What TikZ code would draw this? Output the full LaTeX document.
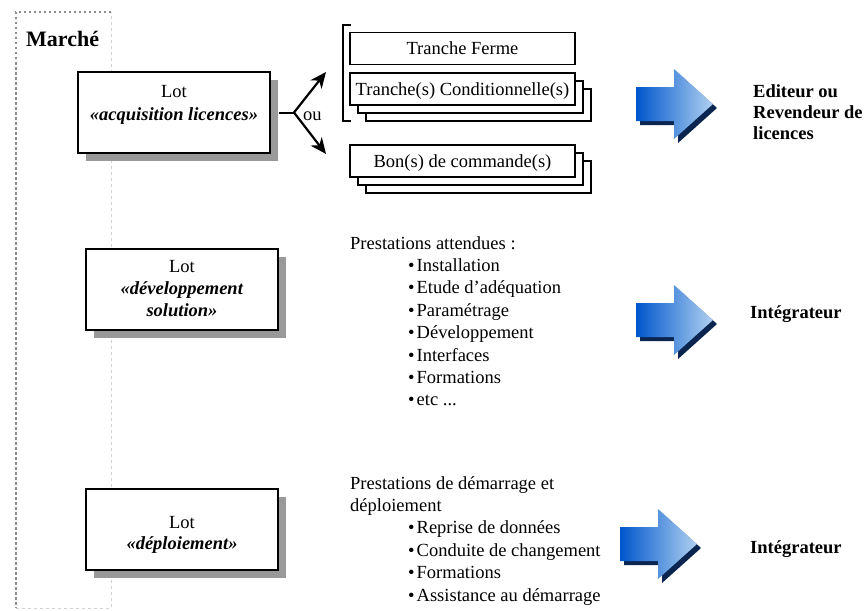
\documentclass[tikz,border=0pt]{standalone}
\usepackage{fontspec}
\setmainfont{Liberation Serif}
\usetikzlibrary{shadows,arrows.meta}

\definecolor{shadowgrey}{HTML}{999999}
\definecolor{framegrey}{HTML}{8C8C8C}
\definecolor{framelightgrey}{HTML}{D0D0D0}
\definecolor{arrowdark}{HTML}{0A2550}
\definecolor{arrowleft}{HTML}{0056CC}
\definecolor{arrowright}{HTML}{AFD0F0}

\tikzset{
  txt/.style={font=\fontsize{18.5}{22.4}\selectfont, inner sep=0pt},
  lotbox/.style={draw, line width=2pt, fill=white,
    minimum width=192pt, minimum height=81pt, inner sep=0pt,
    drop shadow={shadow xshift=8pt, shadow yshift=-8pt, fill=shadowgrey, opacity=1}},
  stackbox/.style={txt, draw, line width=1.3pt, fill=white,
    minimum width=225pt, minimum height=32pt, text height=13pt, text depth=0pt},
  lotline/.style={txt, anchor=base},
  leftline/.style={txt, anchor=base west},
  actor/.style={txt, anchor=base west, font=\fontsize{18.5}{21}\selectfont\bfseries},
  framedots/.style={framegrey, line width=2.2pt, dash pattern=on 2.5pt off 2.5pt},
  framelight/.style={framelightgrey, line width=1pt, dash pattern=on 3pt off 3pt},
  forkarrow/.style={line width=2.2pt, -{Stealth[length=16pt,width=14pt,inset=5pt]}},
  bluearrow/.pic={
    \fill[arrowdark, shift={(4,4)}]
      (0,-17) -- (38,-17) -- (38,-35) -- (77,0) -- (38,35) -- (38,17) -- (0,17) -- cycle;
    \shade[left color=arrowleft, right color=arrowright]
      (0,-17) -- (38,-17) -- (38,-35) -- (77,0) -- (38,35) -- (38,17) -- (0,17) -- cycle;
  }
}

\begin{document}
\begin{tikzpicture}[x=1pt,y=-1pt]
\useasboundingbox (0,0) rectangle (866,610);

% market frame
\draw[framedots] (111,12) -- (16,12) -- (16,608);
\draw[framelight] (16,608) -- (111,608) -- (111,12);
\node[txt, anchor=base west, font=\fontsize{22}{26}\selectfont\bfseries] (marche) at (26,47) {Marché};

% lots
\node[lotbox] (lot1) at (174,112.5) {};
\node[lotline] (lot1a) at (174,97) {Lot};
\node[lotline] (lot1b) at (174,120) {\textbf{\textit{«acquisition licences»}}};

\node[lotbox] (lot2) at (182,289) {};
\node[lotline] (lot2a) at (182,272) {Lot};
\node[lotline] (lot2b) at (182,294.5) {\textbf{\textit{«développement}}};
\node[lotline] (lot2c) at (182,316.5) {\textbf{\textit{solution»}}};

\node[lotbox] (lot3) at (182,529) {};
\node[lotline] (lot3a) at (182,528) {Lot};
\node[lotline] (lot3b) at (182,549) {\textbf{\textit{«déploiement»}}};

% choice between the two purchase forms
\coordinate (fork) at (294,112.5);
\coordinate (upend) at (326,72);
\coordinate (downend) at (326,154);
\draw[line width=2pt] ([xshift=8pt]lot1.east) -- (fork);
\draw[forkarrow] (fork) -- (upend);
\draw[forkarrow] (fork) -- (downend);
\node[txt, anchor=base west] (ou) at (303,120) {ou};

% tranches
\coordinate (brtop) at (351,25);
\coordinate (brbot) at (351,121);
\draw[line width=1.3pt] (brtop) -- (343,25) -- (343,121) -- (brbot);
\node[stackbox] (tf) at (462.5,48.5) {Tranche Ferme};
\node[stackbox] (tc3) at (478.5,105) {};
\node[stackbox] (tc2) at (470.5,97) {};
\node[stackbox] (tc) at (462.5,89) {Tranche(s) Conditionnelle(s)};

% purchase orders
\node[stackbox] (bc3) at (478.5,177) {};
\node[stackbox] (bc2) at (470.5,169) {};
\node[stackbox] (bc) at (462.5,161) {Bon(s) de commande(s)};

% expected services
\node[leftline] (p0) at (350,249) {Prestations attendues :};
\node[leftline] (p1) at (408,271.4) {•\hspace{2pt}Installation};
\node[leftline] (p2) at (408,293.8) {•\hspace{2pt}Etude d’adéquation};
\node[leftline] (p3) at (408,316.2) {•\hspace{2pt}Paramétrage};
\node[leftline] (p4) at (408,338.6) {•\hspace{2pt}Développement};
\node[leftline] (p5) at (408,361) {•\hspace{2pt}Interfaces};
\node[leftline] (p6) at (408,383.4) {•\hspace{2pt}Formations};
\node[leftline] (p7) at (408,405.8) {•\hspace{2pt}etc ...};

% start-up services
\node[leftline] (d0) at (350,489) {Prestations de démarrage et};
\node[leftline] (d1) at (350,511.5) {déploiement};
\node[leftline] (d2) at (408,533.5) {•\hspace{2pt}Reprise de données};
\node[leftline] (d3) at (408,556) {•\hspace{2pt}Conduite de changement};
\node[leftline] (d4) at (408,578.5) {•\hspace{2pt}Formations};
\node[leftline] (d5) at (408,601) {•\hspace{2pt}Assistance au démarrage};

% providers
\pic at (636,104) {bluearrow};
\pic at (636,320) {bluearrow};
\pic at (620,544) {bluearrow};
\node[actor] (ed1) at (753,97) {Editeur ou};
\node[actor] (ed2) at (753,118) {Revendeur de};
\node[actor] (ed3) at (753,139) {licences};
\node[actor] (int1) at (750,318) {Intégrateur};
\node[actor] (int2) at (750,553) {Intégrateur};
\end{tikzpicture}
\end{document}
